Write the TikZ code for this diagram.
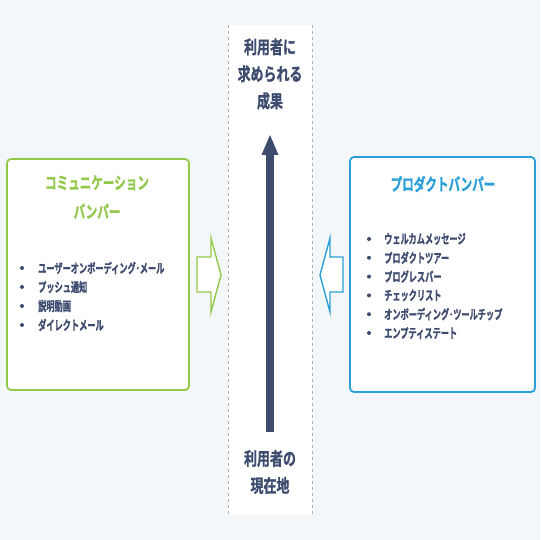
\documentclass[tikz,border=0pt]{standalone}
\usepackage{fontspec}
\newfontfamily\jpb[FakeStretch=0.72,FakeBold=1]{Noto Sans CJK JP Bold}
\newfontfamily\jpt[FakeStretch=0.68,FakeBold=1]{Noto Sans CJK JP Bold}
\newfontfamily\jpi[FakeStretch=0.63,FakeBold=1]{Noto Sans CJK JP Bold}
\definecolor{bg}{HTML}{F4F7F9}
\definecolor{navy}{HTML}{3D4B6E}
\definecolor{grn}{HTML}{92C94A}
\definecolor{blu}{HTML}{2A9FD8}
\definecolor{dashgray}{HTML}{B0B0B0}
\begin{document}
\begin{tikzpicture}[x=1pt,y=-1pt,
  panel/.style={draw=#1,line width=1.8pt,rounded corners=4pt,fill=white},
  ctext/.style={font=\jpb\fontsize{18}{27}\selectfont,text=navy,align=center,inner sep=0pt},
  ttl/.style={font=\jpt\fontsize{17}{29}\selectfont,text=#1,align=center,inner sep=0pt},
  item/.style={font=\jpi\fontsize{13}{14}\selectfont,text=navy,anchor=west,inner sep=0pt},
  dot/.style={circle,fill=navy,inner sep=0pt,minimum size=4pt},
  guide/.style={draw=dashgray,dashed,line width=0.8pt},
  hollow/.style={draw=#1,line width=1.4pt,fill=white,line join=miter}]
\useasboundingbox (0,0) rectangle (540,540);
\fill[bg] (0,0) rectangle (540,540);
\fill[white] (228,25) rectangle (312,515);
\coordinate (d1a) at (228,25); \coordinate (d1b) at (228,515);
\coordinate (d2a) at (312,25); \coordinate (d2b) at (312,515);
\draw[guide] (d1a) -- (d1b);
\draw[guide] (d2a) -- (d2b);
% panels
\draw[panel=grn] (7,159) rectangle (189,390);
\draw[panel=blu] (350,157) rectangle (535,392);
% center texts
\node[ctext] (goal) at (270,74) {利用者に\\求められる\\成果};
\node[ctext] (now) at (270,472) {利用者の\\現在地};
% central arrow
\fill[navy] (266,432) rectangle (274,152);
\fill[navy] (261.5,155) -- (270,135) -- (278.5,155) -- cycle;
% titles
\node[ttl=grn] (lt) at (97,197) {コミュニケーション\\バンパー};
\node[ttl=blu] (rt) at (443,184) {プロダクトバンパー};
% left list
\foreach \t [count=\i] in {ユーザーオンボーディング･メール,プッシュ通知,説明動画,ダイレクトメール}{
  \node[dot] (ld\i) at (22,268+19*\i-19) {};
  \node[item] (li\i) at (38,268+19*\i-19) {\t};
}
% right list
\foreach \t [count=\i] in {ウェルカムメッセージ,プロダクトツアー,プログレスバー,チェックリスト,オンボーディング･ツールチップ,エンプティステート}{
  \node[dot] (rd\i) at (369,239+18.8*\i-18.8) {};
  \node[item] (ri\i) at (384,239+18.8*\i-18.8) {\t};
}
% hollow arrows
\draw[hollow=grn] (197,257) -- (211,257) -- (211,238) -- (221,275) -- (211,312) -- (211,292) -- (197,292) -- cycle;
\draw[hollow=blu] (343,257) -- (330,257) -- (330,238) -- (320,275) -- (330,312) -- (330,292) -- (343,292) -- cycle;
\end{tikzpicture}
\end{document}
